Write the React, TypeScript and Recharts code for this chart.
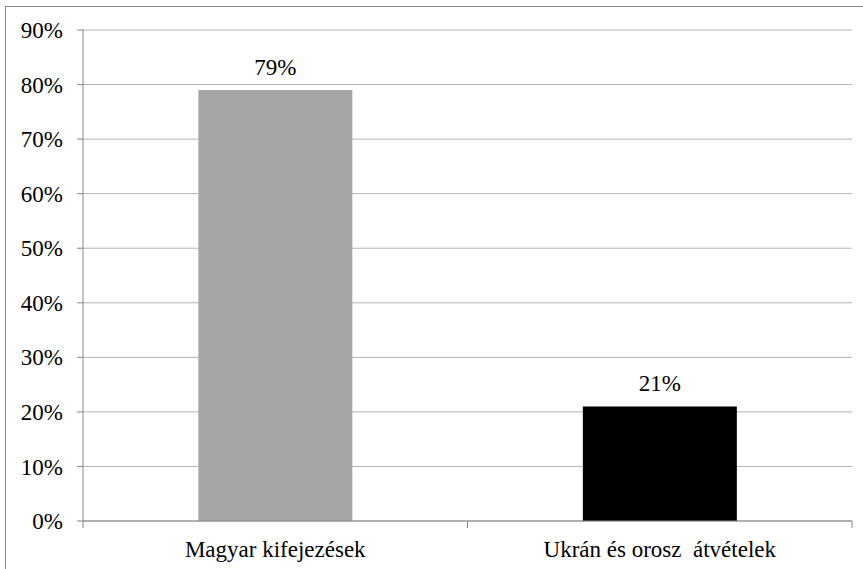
import { BarChart, Bar, XAxis, YAxis, CartesianGrid, Cell, LabelList } from "recharts"

const categories = ["Magyar kifejezések", "Ukrán és orosz  átvételek"]
const shares = [79, 21]
const barColors = ["#a6a6a6", "#000000"]
const yTicks = [0, 10, 20, 30, 40, 50, 60, 70, 80, 90]

const data = categories.map((name, i) => ({ name, value: shares[i] }))

const W = 863
const H = 569
const margin = { top: 30, right: 11, bottom: 0, left: 0 }
const yAxisWidth = 83
const xAxisHeight = 48
const font = "Liberation Serif, Tinos, DejaVu Serif, serif"
const fontSize = 23
const axisColor = "#868686"

// half of one category band, so the ticks sit between the bars like Excel does
const halfBand = (W - margin.left - margin.right - yAxisWidth) / categories.length / 2

const CategoryTick = ({ x, y, payload }: any) => (
  <g>
    <line x1={x - halfBand} y1={y - 8} x2={x - halfBand} y2={y - 1} stroke={axisColor} />
    <line x1={x + halfBand} y1={y - 8} x2={x + halfBand} y2={y - 1} stroke={axisColor} />
    <text
      x={x}
      y={y + 28}
      textAnchor="middle"
      fill="#000"
      fontFamily={font}
      fontSize={fontSize}
      style={{ whiteSpace: "pre" }}
    >
      {payload.value}
    </text>
  </g>
)

export default function App() {
  return (
    <div
      style={{
        position: "absolute",
        left: 0,
        top: 0,
        width: W,
        height: H,
        overflow: "hidden",
        background: "#fff",
        fontFamily: font
      }}
    >
      <div
        style={{
          position: "absolute",
          left: 5,
          top: 6,
          width: 880,
          height: 600,
          border: "1px solid #8a8a8a",
          boxSizing: "border-box"
        }}
      />
      <div style={{ position: "absolute", left: 0, top: 0 }}>
        <BarChart width={W} height={H} data={data} margin={margin} barCategoryGap="30%">
          <CartesianGrid vertical={false} stroke="#b3b3b3" />
          <XAxis
            dataKey="name"
            height={xAxisHeight}
            axisLine={{ stroke: axisColor }}
            tickLine={false}
            tick={<CategoryTick />}
            interval={0}
          />
          <YAxis
            width={yAxisWidth}
            domain={[0, 90]}
            ticks={yTicks}
            tickFormatter={(v: number) => `${v}%`}
            axisLine={{ stroke: axisColor }}
            tickLine={{ stroke: axisColor }}
            tickSize={6}
            tickMargin={14}
            tick={{ fill: "#000", fontFamily: font, fontSize }}
          />
          <Bar dataKey="value" isAnimationActive={false}>
            {data.map((d, i) => (
              <Cell key={d.name} fill={barColors[i]} />
            ))}
            <LabelList
              dataKey="value"
              position="top"
              offset={15}
              formatter={(v: any) => `${v}%`}
              fill="#000"
              fontFamily={font}
              fontSize={fontSize}
            />
          </Bar>
        </BarChart>
      </div>
    </div>
  )
}
